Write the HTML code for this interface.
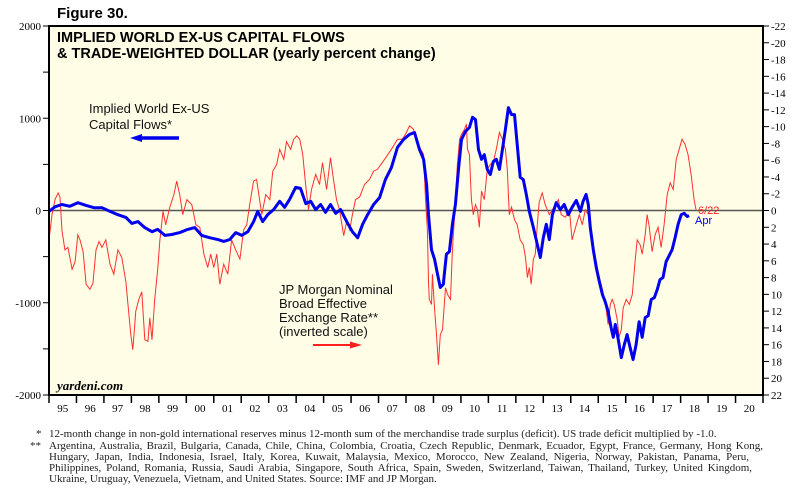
<!DOCTYPE html>
<html><head><meta charset="utf-8">
<style>
body{margin:0;background:#fff;width:800px;height:491px;overflow:hidden;font-family:"Liberation Sans",sans-serif}
svg{position:absolute;left:0;top:0}
.fn{position:absolute;left:49px;font-family:"Liberation Serif",serif;font-size:11px;line-height:12px;color:#222;white-space:nowrap}
.j{text-align:justify;text-align-last:justify;white-space:normal}
.mk{position:absolute;font-family:"Liberation Serif",serif;font-size:11px;line-height:12px;color:#222}
</style></head><body>
<svg id="chart" width="800" height="491"></svg>
<div class="mk" style="left:36px;top:428px">*</div>
<div class="fn" style="top:428px">12-month change in non-gold international reserves minus 12-month sum of the merchandise trade surplus (deficit). US trade deficit multiplied by -1.0.</div>
<div class="mk" style="left:30px;top:440px">**</div>
<div class="fn j" style="top:440px;width:714px">Argentina, Australia, Brazil, Bulgaria, Canada, Chile, China, Colombia, Croatia, Czech Republic, Denmark, Ecuador, Egypt, France, Germany, Hong Kong,</div>
<div class="fn j" style="top:451px;width:700px">Hungary, Japan, India, Indonesia, Israel, Italy, Korea, Kuwait, Malaysia, Mexico, Morocco, New Zealand, Nigeria, Norway, Pakistan, Panama, Peru,</div>
<div class="fn j" style="top:462px;width:703px">Philippines, Poland, Romania, Russia, Saudi Arabia, Singapore, South Africa, Spain, Sweden, Switzerland, Taiwan, Thailand, Turkey, United Kingdom,</div>
<div class="fn" style="top:473px">Ukraine, Uruguay, Venezuela, Vietnam, and United States. Source: IMF and JP Morgan.</div>
<script>
const leftTicks=[2000,1000,0,-1000,-2000];
const rightTicks=[-22,-20,-18,-16,-14,-12,-10,-8,-6,-4,-2,0,2,4,6,8,10,12,14,16,18,20,22];
const yearLabels=["95","96","97","98","99","00","01","02","03","04","05","06","07","08","09","10","11","12","13","14","15","16","17","18","19","20"];
const blueYears=[1995.00,1995.22,1995.47,1995.76,1996.05,1996.35,1996.64,1996.93,1997.22,1997.51,1997.80,1998.02,1998.24,1998.49,1998.75,1998.96,1999.22,1999.47,1999.76,2000.05,2000.31,2000.56,2000.85,2001.15,2001.36,2001.58,2001.80,2002.02,2002.24,2002.45,2002.60,2002.78,2002.96,2003.18,2003.40,2003.58,2003.76,2003.98,2004.16,2004.35,2004.53,2004.71,2004.89,2005.07,2005.25,2005.44,2005.62,2005.84,2006.05,2006.24,2006.42,2006.60,2006.82,2007.04,2007.25,2007.47,2007.69,2007.91,2008.13,2008.31,2008.49,2008.64,2008.75,2008.82,2008.93,2009.04,2009.15,2009.25,2009.36,2009.47,2009.58,2009.69,2009.80,2009.91,2010.02,2010.16,2010.31,2010.42,2010.53,2010.64,2010.75,2010.85,2010.96,2011.07,2011.18,2011.29,2011.40,2011.51,2011.62,2011.73,2011.84,2011.95,2012.05,2012.16,2012.27,2012.38,2012.49,2012.64,2012.78,2012.89,2013.00,2013.11,2013.22,2013.33,2013.47,2013.62,2013.76,2013.91,2014.05,2014.20,2014.35,2014.45,2014.56,2014.64,2014.71,2014.82,2014.93,2015.04,2015.15,2015.25,2015.36,2015.47,2015.55,2015.62,2015.73,2015.84,2015.95,2016.05,2016.16,2016.27,2016.38,2016.49,2016.60,2016.71,2016.82,2016.93,2017.04,2017.15,2017.25,2017.36,2017.47,2017.58,2017.69,2017.80,2017.91,2018.02,2018.13,2018.24,2018.31];
const blueValues=[-10,40,65,45,85,55,30,30,-10,-45,-75,-140,-120,-185,-230,-205,-270,-260,-240,-205,-185,-270,-295,-315,-335,-315,-240,-270,-230,-120,-10,-120,-45,10,100,35,120,250,240,75,100,10,65,-20,65,-30,10,-120,-230,-295,-150,-45,65,140,335,465,685,770,825,845,660,555,280,-45,-425,-530,-695,-835,-800,-475,-445,-150,65,445,770,855,900,1010,985,660,555,605,445,390,530,555,445,660,880,1115,1040,1040,715,360,335,175,-10,-185,-370,-510,-295,-150,-315,-45,85,10,65,-45,35,110,-10,100,175,65,-185,-425,-620,-770,-910,-985,-1095,-1270,-1375,-1235,-1400,-1595,-1455,-1345,-1485,-1615,-1455,-1205,-1375,-1160,-1140,-965,-945,-855,-750,-725,-555,-490,-425,-295,-150,-45,-30,-65,-55];
const redYears=[1995.00,1995.11,1995.22,1995.33,1995.40,1995.47,1995.58,1995.69,1995.84,1995.95,1996.05,1996.13,1996.24,1996.35,1996.49,1996.60,1996.71,1996.82,1996.93,1997.07,1997.22,1997.36,1997.51,1997.65,1997.80,1997.91,1997.98,1998.05,1998.16,1998.27,1998.38,1998.49,1998.60,1998.67,1998.75,1998.85,1998.96,1999.04,1999.15,1999.25,1999.40,1999.55,1999.65,1999.76,1999.87,2000.02,2000.20,2000.35,2000.49,2000.64,2000.78,2000.89,2001.00,2001.11,2001.22,2001.36,2001.51,2001.65,2001.80,2001.95,2002.09,2002.20,2002.31,2002.45,2002.56,2002.75,2002.89,2003.04,2003.15,2003.29,2003.40,2003.55,2003.65,2003.80,2003.91,2004.02,2004.13,2004.24,2004.35,2004.45,2004.56,2004.71,2004.85,2004.96,2005.11,2005.25,2005.36,2005.47,2005.58,2005.73,2005.84,2005.95,2006.05,2006.16,2006.31,2006.49,2006.67,2006.82,2006.96,2007.22,2007.47,2007.69,2007.87,2007.98,2008.13,2008.27,2008.42,2008.53,2008.64,2008.71,2008.78,2008.82,2008.85,2008.93,2008.96,2009.04,2009.11,2009.18,2009.25,2009.33,2009.44,2009.51,2009.62,2009.69,2009.76,2009.80,2009.87,2009.95,2010.02,2010.13,2010.20,2010.24,2010.31,2010.38,2010.45,2010.53,2010.60,2010.67,2010.75,2010.85,2010.96,2011.07,2011.18,2011.29,2011.40,2011.51,2011.62,2011.69,2011.76,2011.84,2011.95,2012.05,2012.16,2012.27,2012.35,2012.42,2012.49,2012.56,2012.64,2012.71,2012.78,2012.85,2012.96,2013.07,2013.22,2013.33,2013.44,2013.55,2013.65,2013.80,2013.95,2014.05,2014.20,2014.31,2014.42,2014.53,2014.64,2014.71,2014.82,2014.93,2015.04,2015.15,2015.22,2015.29,2015.36,2015.44,2015.51,2015.58,2015.69,2015.76,2015.84,2015.91,2016.02,2016.13,2016.24,2016.35,2016.42,2016.53,2016.60,2016.71,2016.78,2016.85,2016.96,2017.07,2017.18,2017.29,2017.40,2017.51,2017.62,2017.73,2017.84,2017.95,2018.05,2018.16,2018.27,2018.38,2018.49,2018.56];
const redValues=[3.5,0.5,-1.3,-2.1,-1.6,2.3,4.7,4.4,7.0,6.1,2.9,3.5,4.9,8.8,9.4,8.7,4.7,3.7,4.4,3.5,6.4,7.6,4.7,5.6,8.5,12.4,14.8,16.6,12.0,10.6,9.7,15.4,15.6,12.8,15.4,10.6,7.0,3.5,0.1,1.7,-0.4,-1.9,-3.5,-1.9,0.5,-1.3,-0.7,1.7,2.0,5.2,6.8,5.2,6.8,5.2,8.8,6.4,7.6,3.5,4.7,5.8,2.3,1.7,-0.7,-3.5,-3.7,0.5,-1.9,-1.3,-4.7,-5.5,-7.3,-6.1,-8.2,-7.3,-8.5,-8.9,-8.5,-6.7,-2.9,-0.1,-2.5,-4.3,-3.1,-5.7,-2.5,-6.3,-3.7,-1.3,-0.1,3.0,1.3,2.3,0.5,-1.3,-1.6,-3.1,-3.7,-4.7,-4.9,-6.1,-7.3,-8.5,-8.5,-9.1,-10.1,-9.7,-8.1,-7.3,-6.7,-1.3,2.3,8.5,10.6,11.2,7.6,11.8,14.8,18.4,14.8,14.2,9.2,10.0,10.6,4.7,1.1,-1.3,-5.5,-8.5,-9.1,-9.7,-10.3,-7.3,-6.7,-1.3,0.5,-0.7,-0.1,2.0,-2.3,-1.3,-4.9,-5.5,-5.8,-7.3,-9.3,-8.5,-7.3,-4.9,0.5,-0.4,1.1,1.7,3.5,4.1,5.6,8.0,6.8,8.8,5.8,5.2,1.7,-1.0,-2.1,-0.7,0.5,-0.1,-0.7,-1.3,0.5,0.8,-0.1,3.5,1.7,0.5,1.7,-0.1,0.5,2.9,4.7,6.1,8.0,9.4,10.6,11.8,13.6,11.2,10.6,11.2,13.0,15.1,14.2,11.6,10.6,11.2,10.0,5.8,3.5,4.1,5.2,2.9,0.5,1.7,4.9,2.9,2.0,4.4,1.7,-1.9,-3.3,-2.5,-6.1,-7.3,-8.5,-7.9,-6.7,-4.3,-1.3,-0.1];

const L=49,R=763,T=26,B=395;
const xS=y=>L+(y-1995)*(R-L)/26;
const yL=v=>T+(2000-v)*(B-T)/4000;
const yR=v=>T+(v+22)*(B-T)/44;
const svg=document.getElementById('chart');
const NS='http://www.w3.org/2000/svg';
function mk(tag,attrs,txt){const e=document.createElementNS(NS,tag);for(const k in attrs)e.setAttribute(k,attrs[k]);if(txt!==undefined)e.textContent=txt;svg.appendChild(e);return e;}

let e;
e=mk('rect',{x:L,y:T,width:R-L,height:B-T,fill:'#fffde5',stroke:'none'});


e=mk('text',{x:57,y:18,'font-size':15,'font-weight':'bold',fill:'#000'},'Figure 30.');


e=mk('text',{x:57,y:42,'font-size':14.5,'font-weight':'bold',fill:'#000'},'IMPLIED WORLD EX-US CAPITAL FLOWS');


e=mk('text',{x:57,y:58,'font-size':14.5,'font-weight':'bold',fill:'#000'},'& TRADE-WEIGHTED DOLLAR (yearly percent change)');



for(let v=-2000;v<=2000;v+=500){const y=yL(v);mk('line',{x1:L-6,x2:L,y1:y,y2:y,stroke:'#000','stroke-width':1});}
leftTicks.forEach(v=>{e=mk('text',{x:L-8,y:yL(v)+4,'font-size':11,'text-anchor':'end','font-family':'Liberation Serif, serif',fill:'#000'},String(v));

});
rightTicks.forEach(v=>{const y=yR(v);mk('line',{x1:R,x2:R+6,y1:y,y2:y,stroke:'#000','stroke-width':1});
e=mk('text',{x:R+8,y:y+4,'font-size':11,'font-family':'Liberation Serif, serif',fill:'#000'},String(v));

});
for(let i=0;i<=26;i++){const x=xS(1995+i);mk('line',{x1:x,x2:x,y1:B,y2:B+8,stroke:'#000','stroke-width':1.5});}
yearLabels.forEach((s,i)=>{e=mk('text',{x:xS(1995.5+i),y:B+17,'font-size':11,'text-anchor':'middle','font-family':'Liberation Serif, serif',fill:'#000'},s);

});

e=mk('line',{x1:L,x2:R,y1:yL(0),y2:yL(0),stroke:'#555','stroke-width':1.5});



e=mk('polyline',{points:redYears.map((y,i)=>xS(y).toFixed(1)+','+yR(redValues[i]).toFixed(1)).join(' '),fill:'none',stroke:'#ff3030','stroke-width':1});


e=mk('polyline',{points:blueYears.map((y,i)=>xS(y).toFixed(1)+','+yL(blueValues[i]).toFixed(1)).join(' '),fill:'none',stroke:'#0000ee','stroke-width':3,'stroke-linejoin':'round'});



e=mk('rect',{x:L,y:T,width:R-L,height:B-T,fill:'none',stroke:'#000','stroke-width':2});



e=mk('text',{x:89,y:113,'font-size':13,fill:'#111'},'Implied World Ex-US');


mk('text',{x:89,y:129,'font-size':13,fill:'#111'},'Capital Flows*');
mk('line',{x1:179,x2:140,y1:138,y2:138,stroke:'#0000ee','stroke-width':3.5});
e=mk('polygon',{points:'130,138 142,134 142,142',fill:'#0000ee'});


e=mk('text',{x:279,y:294,'font-size':13,fill:'#111'},'JP Morgan Nominal');


mk('text',{x:279,y:308,'font-size':13,fill:'#111'},'Broad Effective');
mk('text',{x:279,y:322,'font-size':13,fill:'#111'},'Exchange Rate**');
mk('text',{x:279,y:336,'font-size':13,fill:'#111'},'(inverted scale)');
mk('line',{x1:313,x2:352,y1:345,y2:345,stroke:'#ff2020','stroke-width':2});
e=mk('polygon',{points:'362,345 350,341.5 350,348.5',fill:'#ff2020'});


e=mk('text',{x:57,y:390,'font-size':13,'font-weight':'bold','font-style':'italic','font-family':'Liberation Serif, serif',fill:'#000'},'yardeni.com');


e=mk('text',{x:698,y:214,'font-size':11,fill:'#ff2020'},'6/22');


e=mk('text',{x:695,y:224,'font-size':11,fill:'#0000ee'},'Apr');


</script>
</body></html>
